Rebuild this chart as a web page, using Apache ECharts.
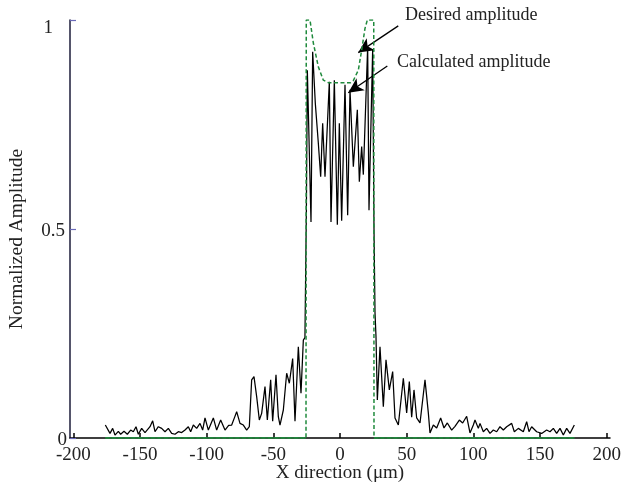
<!DOCTYPE html>
<html>
<head>
<meta charset="utf-8">
<script src="https://cdn.jsdelivr.net/npm/echarts@6/dist/echarts.min.js"></script>
<style>
html,body{margin:0;padding:0;background:#fff;}
#chart{width:626px;height:489px;}
</style>
</head>
<body>
<div id="chart"></div>
<script>
const xTicks = [-200, -150, -100, -50, 0, 50, 100, 150, 200];
const yTicks = [0, 0.5, 1];

// Calculated amplitude [x (µm), amplitude]
const calculated = [
  [-176,0.031],[-175,0.027],[-172.5,0.011],[-170.5,0.023],[-168.75,0.007],[-166.25,0.016],[-164.5,0.009],
  [-162,0.016],[-159.5,0.009],[-157,0.019],[-155,0.015],[-153,0.027],[-151.25,0.009],[-148.75,0.023],
  [-146.25,0.013],[-142.5,0.027],[-140.5,0.041],[-138.75,0.015],[-136.25,0.027],[-133.75,0.023],
  [-131.25,0.015],[-128.75,0.023],[-126.25,0.011],[-123.75,0.009],[-121.25,0.015],[-118.75,0.013],
  [-116.25,0.019],[-113.75,0.027],[-112,0.015],[-110,0.031],[-107.5,0.023],[-105,0.035],[-103,0.019],
  [-101.25,0.048],[-98.75,0.019],[-95,0.048],[-92.5,0.019],[-89.5,0.043],[-86.25,0.019],[-83.5,0.03],
  [-81.25,0.031],[-79,0.05],[-77.5,0.063],[-75,0.035],[-72.5,0.031],[-70,0.019],[-68,0.027],
  [-66.25,0.139],[-64.5,0.147],[-62.5,0.099],[-60.5,0.043],[-58.75,0.059],[-56.25,0.123],[-54.5,0.043],
  [-52,0.139],[-50.5,0.04],[-48,0.151],[-46.25,0.051],[-45,0.031],[-42.5,0.067],[-40,0.155],[-38,0.131],
  [-35.5,0.19],[-33.75,0.04],[-31.25,0.218],[-29.25,0.107],[-27.5,0.234],[-26.3,0.24],[-25.2,0.55],
  [-24.5,0.88],[-23.5,0.75],[-21.75,0.517],[-20.5,0.924],[-18.5,0.8],[-16.25,0.705],[-14.5,0.625],
  [-13,0.753],[-11.25,0.625],[-8,0.852],[-6.75,0.517],[-4.25,0.856],[-2,0.51],[-0.5,0.753],[1.25,0.52],
  [3.75,0.845],[5.75,0.533],[7.5,0.833],[10,0.649],[13,0.785],[14.5,0.613],[16.25,0.697],[17.5,0.63],
  [20.75,0.936],[21.75,0.545],[24.5,0.93],[25.5,0.5],[26.25,0.3],[27,0.242],[28,0.091],[30,0.218],
  [32.5,0.075],[34.5,0.187],[37,0.115],[39.5,0.159],[41.25,0.048],[43.75,0.031],[47.5,0.143],[50,0.06],
  [52,0.135],[53.75,0.05],[55.5,0.115],[57.5,0.048],[60,0.036],[63.75,0.139],[66.25,0.06],[67.5,0.012],
  [70,0.031],[72.5,0.024],[75.5,0.048],[78,0.024],[80.5,0.036],[83.75,0.019],[86.25,0.028],[89.5,0.043],
  [92,0.036],[95,0.052],[97.5,0.012],[100,0.031],[101.25,0.043],[103.75,0.023],[105,0.035],[107.5,0.015],
  [110,0.023],[112.5,0.011],[115,0.019],[117.5,0.015],[120,0.027],[122.5,0.019],[125,0.027],[128.75,0.035],
  [130.75,0.015],[133.75,0.023],[137.5,0.015],[140,0.039],[141.75,0.015],[143.75,0.027],[147.5,0.015],
  [151.25,0.011],[155,0.019],[157.5,0.015],[160,0.023],[162.5,0.011],[165,0.023],[167.5,0.007],
  [170,0.023],[172.5,0.011],[175.75,0.031]
];

// Desired amplitude [x (µm), amplitude]
const desired = [
  [-176,0],[-25.5,0],[-25.3,1],[-22.5,1],[-20,0.945],[-16.25,0.888],[-12.5,0.856],[-8.75,0.85],
  [8,0.85],[10,0.855],[13.75,0.88],[16.25,0.928],[18.75,0.98],[20.5,1],[23.75,1],[25.3,1],[25.5,0],[176,0]
];
// zero-level segments of the desired profile (drawn solid along the baseline)
const desiredBase = desired.map(p => (p[1] === 0 ? p : null));

// Annotation arrows: [from, to] in data coordinates
const arrowDesired = [[43.7, 0.986], [13.7, 0.922]];
const arrowCalculated = [[35.5, 0.89], [6.2, 0.826]];

const FONT = '"Liberation Serif","Times New Roman",serif';
const chart = echarts.init(document.getElementById('chart'), null, {renderer: 'canvas'});

chart.setOption({
  animation: false,
  backgroundColor: '#fff',
  grid: {left: 70, right: 16, top: 20, bottom: 51, containLabel: false, outerBoundsMode: 'none'},
  xAxis: {
    type: 'value', min: -202.5, max: 202.5,
    name: 'X direction (\u03bcm)', nameLocation: 'middle', nameGap: 26, nameMoveOverlap: false,
    nameTextStyle: {fontFamily: FONT, fontSize: 19, color: '#222'},
    axisLine: {show: true, onZero: false, lineStyle: {color: '#000', width: 1.5}},
    axisTick: {show: true, inside: true, length: 5, customValues: xTicks, lineStyle: {color: '#000', width: 1.5}},
    axisLabel: {customValues: xTicks, fontFamily: FONT, fontSize: 19, color: '#222', margin: 8},
    splitLine: {show: false}
  },
  yAxis: {
    type: 'value', min: 0, max: 1, interval: 0.5,
    name: 'Normalized Amplitude', nameLocation: 'middle', nameGap: 43, nameMoveOverlap: false,
    nameTextStyle: {fontFamily: FONT, fontSize: 19.5, color: '#222', padding: [0, 20, 0, 0]},
    axisLine: {show: true, onZero: false, lineStyle: {color: '#1c1c3a', width: 1.5}},
    axisTick: {show: true, inside: true, length: 6, lineStyle: {color: '#6a6ab8', width: 1.2}},
    axisLabel: {
      fontFamily: FONT, fontSize: 19, color: '#222', margin: 3,
      formatter: function (v) {
        if (v === 1) return '{a|1}';
        if (v === 0.5) return '{b|0.5}';
        return '{c|0}';
      },
      rich: {
        a: {fontFamily: FONT, fontSize: 19, color: '#222', padding: [16, 14, 0, 0]},
        b: {fontFamily: FONT, fontSize: 19, color: '#222', padding: [4, 2, 0, 0]},
        c: {fontFamily: FONT, fontSize: 19, color: '#222', padding: [4, 0, 0, 0]}
      }
    },
    splitLine: {show: false}
  },
  series: [
    {
      name: 'Calculated amplitude', type: 'line', data: calculated,
      symbol: 'none', z: 3,
      lineStyle: {color: '#000', width: 1.25}
    },
    {
      name: 'Desired baseline', type: 'line', data: desiredBase,
      symbol: 'none', z: 4, connectNulls: false,
      lineStyle: {color: '#1f8a3c', width: 1.6}
    },
    {
      name: 'Desired amplitude', type: 'line', data: desired,
      symbol: 'none', z: 5,
      lineStyle: {color: '#1f8a3c', width: 1.5, type: [4, 2.5]},
      markLine: {
        silent: true, symbol: ['none', 'arrow'], symbolSize: [11, 15],
        lineStyle: {color: '#000', width: 1.3, type: 'solid'},
        label: {show: false},
        data: [
          [{coord: arrowDesired[0]}, {coord: arrowDesired[1]}],
          [{coord: arrowCalculated[0]}, {coord: arrowCalculated[1]}]
        ]
      }
    }
  ],
  graphic: [
    {type: 'text', left: 405, top: 6, style: {text: 'Desired amplitude', font: '18px ' + FONT, fill: '#222'}},
    {type: 'text', left: 397, top: 53, style: {text: 'Calculated amplitude', font: '18px ' + FONT, fill: '#222'}}
  ]
});
</script>
</body>
</html>
